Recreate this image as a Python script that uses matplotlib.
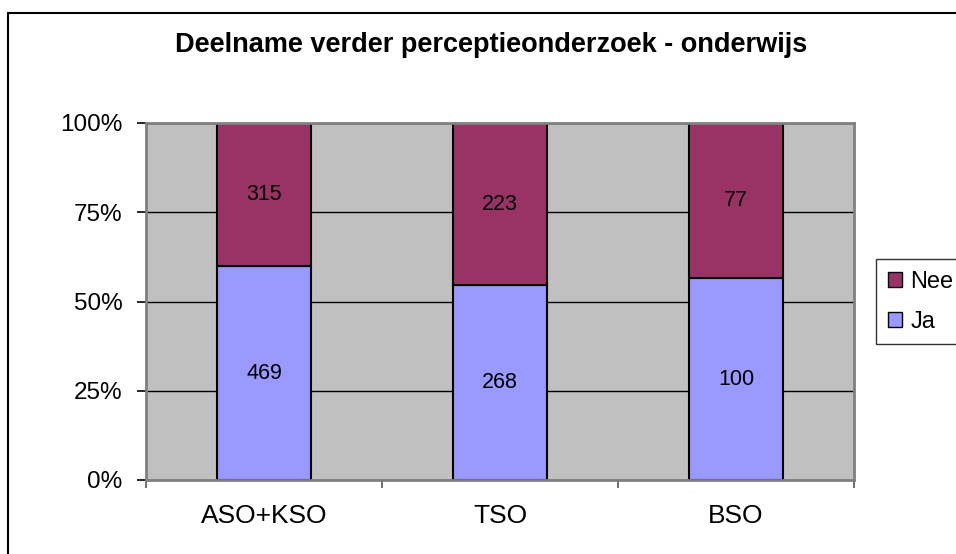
import matplotlib
matplotlib.use("Agg")
from matplotlib import pyplot as plt
from matplotlib.patches import Rectangle, Patch
import numpy as np

plt.rcParams['font.family'] = ['Liberation Sans', 'DejaVu Sans']

# data
categories = ["ASO+KSO", "TSO", "BSO"]
ja = [469, 268, 100]
nee = [315, 223, 77]
yticks = [0, 25, 50, 75, 100]

W, H = 956, 554
fig = plt.figure(figsize=(W / 100, H / 100), dpi=100)

# outer chart border (runs off the right and bottom edge)
fig.patches.append(Rectangle((8 / W, -0.1), 1.2, 1 - 13 / H + 0.1,
                             transform=fig.transFigure, fill=False,
                             edgecolor="black", linewidth=1.5))

ax = fig.add_axes([146 / W, 1 - 480 / H, 708 / W, 357 / H])
ax.set_facecolor("#C0C0C0")

ja = np.array(ja, dtype=float)
nee = np.array(nee, dtype=float)
tot = ja + nee
ja_pct = ja / tot * 100
nee_pct = nee / tot * 100
x = np.arange(len(categories))
w = 0.395

ax.set_axisbelow(True)
ax.yaxis.grid(True, color="black", linewidth=1)
b1 = ax.bar(x, ja_pct, w, color="#9999FF", edgecolor="black", linewidth=1.5, label="Ja")
b2 = ax.bar(x, nee_pct, w, bottom=ja_pct, color="#993366", edgecolor="black", linewidth=1.5, label="Nee")

for i in range(len(x)):
    ax.text(x[i], ja_pct[i] / 2, f"{int(ja[i])}", ha="center", va="center", fontsize=15.5)
    ax.text(x[i], ja_pct[i] + nee_pct[i] / 2, f"{int(nee[i])}", ha="center", va="center", fontsize=15.5)

ax.set_xlim(-0.5, 2.5)
ax.set_ylim(0, 100)
ax.set_yticks(yticks)
ax.set_yticklabels([f"{t}%" for t in yticks], fontsize=17.5)
ax.set_xticks(x)
ax.set_xticklabels(categories, fontsize=19)
ax.tick_params(axis="x", length=0, pad=17)
ax.set_xticks(np.arange(-0.5, 3, 1), minor=True)
ax.tick_params(axis="x", which="minor", length=6, width=1.2, color="#555555")
ax.tick_params(axis="y", length=6.5, width=1.2, pad=10.5)
for s in ax.spines.values():
    s.set_color("#808080")
    s.set_linewidth(2)

fig.text(491 / W, 1 - 45 / H, "Deelname verder perceptieonderzoek - onderwijs",
         ha="center", va="center", fontsize=19.5, fontweight="bold")

handles = [Patch(facecolor="#993366", edgecolor="black", label="Nee"),
           Patch(facecolor="#9999FF", edgecolor="black", label="Ja")]
leg = fig.legend(handles=handles, loc="upper left", bbox_to_anchor=(876 / W, 1 - 259 / H),
                 fontsize=17, frameon=True, fancybox=False, handlelength=0.6,
                 handleheight=0.6, handletextpad=0.35, borderpad=0.5, labelspacing=0.75,
                 borderaxespad=0)
leg.get_frame().set_edgecolor("black")
leg.get_frame().set_linewidth(1)

fig.savefig("out.png", dpi=100)
